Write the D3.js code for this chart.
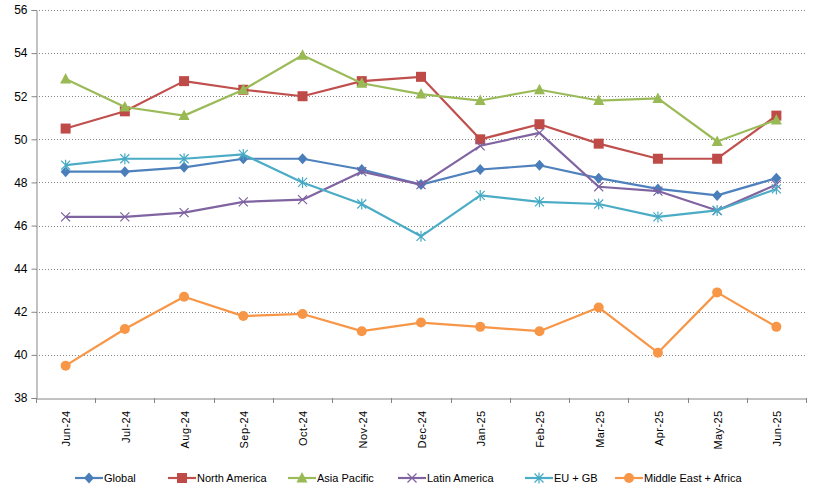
<!DOCTYPE html>
<html><head><meta charset="utf-8">
<script src="https://cdn.jsdelivr.net/npm/d3@7"></script>
<style>body{margin:0;background:#fff;}svg{display:block;font-family:"Liberation Sans",Arial,sans-serif;}</style>
</head><body><svg id="c" width="816" height="491"></svg>
<script>
const categories = ["Jun-24","Jul-24","Aug-24","Sep-24","Oct-24","Nov-24","Dec-24","Jan-25","Feb-25","Mar-25","Apr-25","May-25","Jun-25"];
const global = [48.5,48.5,48.7,49.1,49.1,48.6,47.9,48.6,48.8,48.2,47.7,47.4,48.2];
const northAmerica = [50.5,51.3,52.7,52.3,52.0,52.7,52.9,50.0,50.7,49.8,49.1,49.1,51.1];
const asiaPacific = [52.8,51.5,51.1,52.3,53.9,52.6,52.1,51.8,52.3,51.8,51.9,49.9,50.9];
const latinAmerica = [46.4,46.4,46.6,47.1,47.2,48.5,47.9,49.7,50.3,47.8,47.6,46.7,47.9];
const euGb = [48.8,49.1,49.1,49.3,48.0,47.0,45.5,47.4,47.1,47.0,46.4,46.7,47.7];
const mea = [39.5,41.2,42.7,41.8,41.9,41.1,41.5,41.3,41.1,42.2,40.1,42.9,41.3];
const yTicks = [38,40,42,44,46,48,50,52,54,56];

const series = [
  {name:"Global", values:global, line:"#4F81BD", fill:"#4A7EBB", shape:"diamond"},
  {name:"North America", values:northAmerica, line:"#C0504D", fill:"#BE4B48", shape:"square"},
  {name:"Asia Pacific", values:asiaPacific, line:"#9BBB59", fill:"#98B954", shape:"triangle"},
  {name:"Latin America", values:latinAmerica, line:"#8064A2", fill:"#7D60A0", shape:"x"},
  {name:"EU + GB", values:euGb, line:"#4BACC6", fill:"#46AAC5", shape:"star"},
  {name:"Middle East + Africa", values:mea, line:"#F79646", fill:"#F79646", shape:"circle"}
];

const svg = d3.select("#c");
const pL = 36, pR = 806, pT = 10, pB = 398;
const x = d3.scaleBand().domain(categories).range([pL, pR]);
const y = d3.scaleLinear().domain([38,56]).range([pB, pT]);

// gridlines
svg.append("g").selectAll("line").data(yTicks.filter(t=>t>38)).join("line")
  .attr("x1", pL).attr("x2", pR)
  .attr("y1", d=>Math.round(y(d))+0.5).attr("y2", d=>Math.round(y(d))+0.5)
  .attr("stroke","#868686").attr("stroke-width",1).attr("stroke-dasharray","1,2");

// y axis
const yAxis = d3.axisLeft(y).tickValues(yTicks).tickSize(5).tickPadding(4).tickFormat(d3.format("d"));
const gy = svg.append("g").attr("transform",`translate(${pL+0.5},0)`).call(yAxis);
gy.select(".domain").attr("stroke","#868686");
gy.selectAll(".tick line").attr("stroke","#868686");
gy.selectAll(".tick text").attr("font-size","12px").attr("fill","#000");

// x axis
const xAxis = d3.axisBottom(x).tickSize(0).tickPadding(0);
const gx = svg.append("g").attr("transform",`translate(0,${pB+0.5})`).call(xAxis);
gx.select(".domain").attr("stroke","#868686");
gx.selectAll(".tick text").attr("font-size","11px").attr("fill","#000").attr("letter-spacing","0.4px")
  .attr("transform","rotate(-90)").attr("text-anchor","end")
  .attr("x",-12).attr("y",1).attr("dy","0.35em");
// boundary ticks
const bounds = categories.map(c=>x(c)).concat([pR]);
svg.append("g").selectAll("line").data(bounds).join("line")
  .attr("x1",d=>Math.round(d)+0.5).attr("x2",d=>Math.round(d)+0.5)
  .attr("y1",pB).attr("y2",pB+5).attr("stroke","#868686");

function drawMarker(g, shape, fill) {
  if (shape==="diamond") g.append("path").attr("d","M0,-5.5L5,0L0,5.5L-5,0Z").attr("fill",fill);
  else if (shape==="square") g.append("rect").attr("x",-5).attr("y",-5).attr("width",10).attr("height",10).attr("fill",fill);
  else if (shape==="triangle") g.append("path").attr("d","M0,-6L5.5,4.5L-5.5,4.5Z").attr("fill",fill);
  else if (shape==="x") g.append("path").attr("d","M-4.5,-4.5L4.5,4.5M-4.5,4.5L4.5,-4.5").attr("stroke",fill).attr("stroke-width",1.2).attr("fill","none");
  else if (shape==="star") g.append("path").attr("d","M-4.5,-4.5L4.5,4.5M-4.5,4.5L4.5,-4.5M0,-5.5L0,5.5").attr("stroke",fill).attr("stroke-width",1.2).attr("fill","none");
  else if (shape==="circle") g.append("circle").attr("r",5).attr("fill",fill);
}

const cx = c => x(c) + x.bandwidth()/2;
const line = d3.line().x((d,i)=>cx(categories[i])).y(d=>y(d));

series.forEach(s=>{
  svg.append("path").datum(s.values).attr("d",line)
    .attr("fill","none").attr("stroke",s.line).attr("stroke-width",2.2).attr("stroke-linejoin","round");
  s.values.forEach((v,i)=>{
    const g = svg.append("g").attr("transform",`translate(${cx(categories[i])},${y(v)})`);
    drawMarker(g, s.shape, s.fill);
  });
});

// legend
const legendX = [89,182,302,412,539,629];
const ly = 478;
series.forEach((s,i)=>{
  const g = svg.append("g").attr("transform",`translate(${legendX[i]},${ly})`);
  g.append("line").attr("x1",-14).attr("x2",14).attr("y1",0).attr("y2",0).attr("stroke",s.line).attr("stroke-width",2.2);
  drawMarker(g.append("g"), s.shape, s.fill);
  g.append("text").attr("x",15).attr("y",0).attr("dy","0.35em").attr("font-size","11px").attr("fill","#000").text(s.name);
});
</script></body></html>
